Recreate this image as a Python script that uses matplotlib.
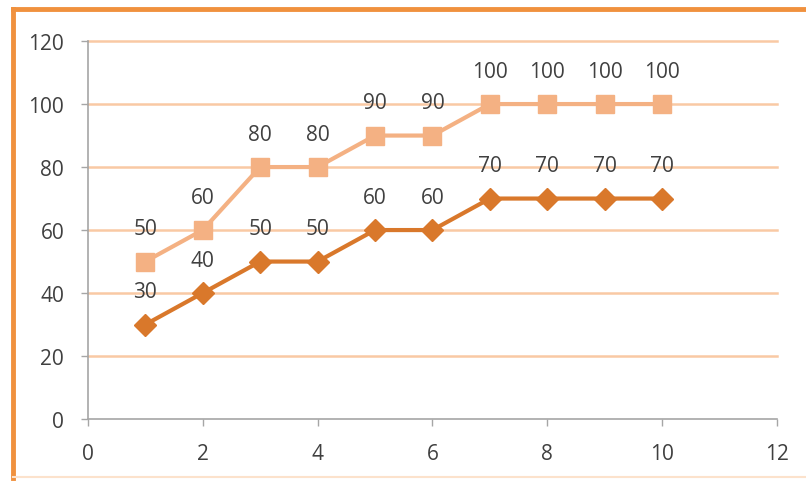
import matplotlib.pyplot as plt
from matplotlib.lines import Line2D

x = [1, 2, 3, 4, 5, 6, 7, 8, 9, 10]
upper = [50, 60, 80, 80, 90, 90, 100, 100, 100, 100]
lower = [30, 40, 50, 50, 60, 60, 70, 70, 70, 70]

plt.rcParams['font.family'] = ['Open Sans', 'DejaVu Sans']

fig = plt.figure(figsize=(8.06, 4.89), dpi=100)
ax = fig.add_axes([0.109, 0.141, 0.855, 0.773])

for yv in range(20, 121, 20):
    ax.axhline(yv, color='#F9C9A4', lw=1.8, zorder=0, clip_on=False)

ax.plot(x, upper, color='#F4B183', lw=3, marker='s', markersize=13, zorder=3)
ax.plot(x, lower, color='#D9782B', lw=3, marker='D', markersize=11, zorder=3)

for xi, v in zip(x, upper):
    ax.annotate(str(v), (xi, v), xytext=(0, 16), textcoords='offset points',
                ha='center', va='bottom', fontsize=15, color='#404040')
for xi, v in zip(x, lower):
    ax.annotate(str(v), (xi, v), xytext=(0, 16), textcoords='offset points',
                ha='center', va='bottom', fontsize=15, color='#404040')

ax.set_xlim(0, 12)
ax.set_ylim(0, 120)
ax.set_xticks(range(0, 13, 2))
ax.set_yticks(range(0, 121, 20))
for s in ['top', 'right']:
    ax.spines[s].set_visible(False)
for s in ['left', 'bottom']:
    ax.spines[s].set_color('#A6A6A6')
    ax.spines[s].set_linewidth(1.2)
ax.tick_params(colors='#A6A6A6', labelcolor='#404040', labelsize=15, length=5, width=1)
ax.tick_params(axis='x', pad=12)
ax.tick_params(axis='y', pad=12)

# orange frame around the chart
fig.add_artist(Line2D([0.016, 1.0], [0.98, 0.98], color='#F0913E', lw=3.5, transform=fig.transFigure))
fig.add_artist(Line2D([0.016, 0.016], [0.98, 0.02], color='#F0913E', lw=3.5, transform=fig.transFigure))
fig.add_artist(Line2D([0.016, 1.0], [0.022, 0.022], color='#FCE2CC', lw=1.5, transform=fig.transFigure))

fig.savefig('out.png', dpi=100)
